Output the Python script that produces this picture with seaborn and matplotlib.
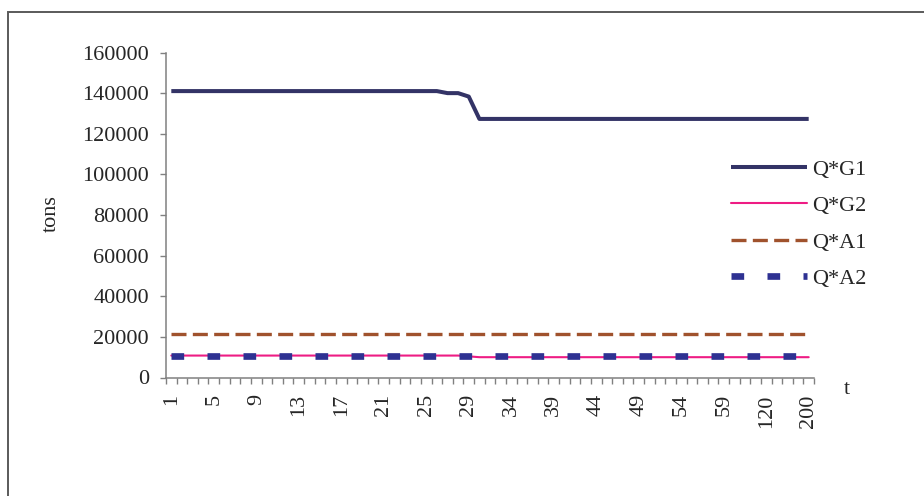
import matplotlib
matplotlib.use("Agg")
import matplotlib.pyplot as plt
from matplotlib.patches import Rectangle
import numpy as np
import seaborn as sns

# Period labels (categorical axis)
t_values = [1, 2, 3, 4, 5, 6, 7, 8, 9, 10, 11, 12, 13, 14, 15, 16, 17, 18, 19, 20,
            21, 22, 23, 24, 25, 26, 27, 28, 29, 30, 31, 32, 34, 35, 36, 37, 39, 40,
            41, 42, 44, 45, 46, 47, 49, 50, 51, 52, 54, 55, 56, 57, 59, 60, 80, 100,
            120, 140, 160, 180, 200]

# Optimal quantities (tons)
q_g1 = [141000] * 26 + [140000, 140000, 138300] + [127300] * 32
q_g2 = [10800] * 28 + [10400] + [10000] * 32
q_a1 = [21500] * 61
q_a2 = [10800] * 61

series_names = ["Q*G1", "Q*G2", "Q*A1", "Q*A2"]
y_ticks = [0, 20000, 40000, 60000, 80000, 100000, 120000, 140000, 160000]

sns.set_theme(style="white")
plt.rcParams["font.family"] = ["Liberation Serif", "DejaVu Serif"]
TXT = "#262626"
AX = "#808080"
FS = 16

W, H = 924, 496
fig = plt.figure(figsize=(W / 100, H / 100), dpi=100)
fig.patch.set_facecolor("white")
ax = fig.add_axes([166 / W, (H - 377.5) / H, (814 - 166) / W, (377.5 - 52.5) / H])

pos = np.arange(len(t_values))

sns.lineplot(x=pos, y=q_g1, ax=ax, color="#333366", linewidth=2.9,
             label=series_names[0], solid_capstyle="butt")
sns.lineplot(x=pos, y=q_g2, ax=ax, color="#EE1C84", linewidth=1.5,
             label=series_names[1])
sns.lineplot(x=pos, y=q_a1, ax=ax, color="#A0522D", linewidth=2.4,
             linestyle=(0, (4.5, 1.9)), label=series_names[2])
sns.lineplot(x=pos, y=q_a2, ax=ax, color="#2E3192", linewidth=4.8,
             linestyle=(0, (1.9, 3.5)), label=series_names[3])

ax.set_xlim(-0.5, len(t_values) - 0.5)
ax.set_ylim(0, 160000)

for side in ("top", "right"):
    ax.spines[side].set_visible(False)
for side in ("left", "bottom"):
    ax.spines[side].set_color(AX)
    ax.spines[side].set_linewidth(1.1)

ax.set_yticks(y_ticks)
ax.set_yticklabels([str(v) for v in y_ticks])
ax.tick_params(axis="y", length=4.3, width=1, color=AX, direction="out",
               pad=8, labelsize=FS, labelcolor=TXT, left=True)

# tick marks between categories, labels on every fourth category
ax.set_xticks(np.arange(-0.5, len(t_values), 1.0))
ax.set_xticklabels([])
ax.tick_params(axis="x", which="major", length=4.3, width=1, color=AX,
               direction="out", bottom=True)
ax.set_xticks(pos[::4], [str(v) for v in t_values[::4]], minor=True)
ax.tick_params(axis="x", which="minor", length=0, pad=12, labelsize=FS,
               labelcolor=TXT, labelrotation=90, bottom=True)

ax.set_xlabel("")
ax.set_ylabel("")
fig.text(51.7 / W, 1 - 214 / H, "tons", rotation=90, ha="center", va="center",
         fontsize=FS, color=TXT)
fig.text(846.7 / W, 1 - 390 / H, "t", ha="center", va="center",
         fontsize=FS, color=TXT)

ax.legend(loc="upper left", bbox_to_anchor=(730.7 / W, 1 - 159 / H),
          bbox_transform=fig.transFigure, frameon=False, fontsize=FS,
          handlelength=3.45, handletextpad=0.2, labelspacing=0.72,
          borderpad=0, borderaxespad=0, labelcolor=TXT)

fig.add_artist(Rectangle((8 / W, -0.2), 1.2, (H - 12) / H + 0.2,
                         transform=fig.transFigure, fill=False,
                         edgecolor="#5a5a5a", linewidth=1.4))

fig.savefig("out.png", dpi=100, facecolor="white")
